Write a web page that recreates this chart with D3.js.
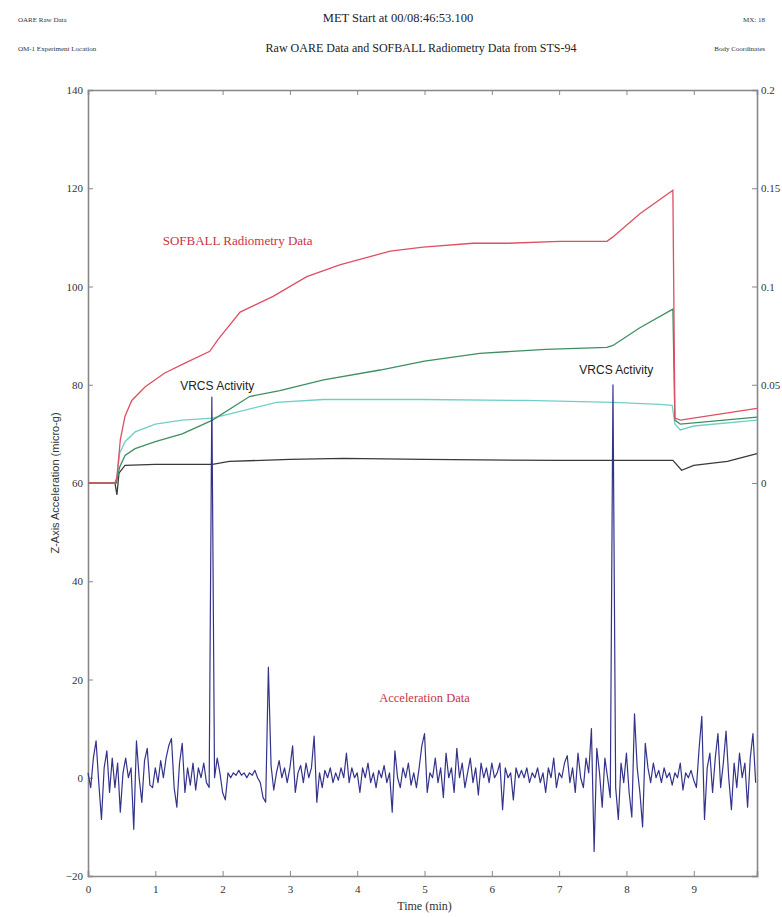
<!DOCTYPE html>
<html>
<head>
<meta charset="utf-8">
<script src="https://cdn.jsdelivr.net/npm/d3@7/dist/d3.min.js"></script>
<style>
  body { margin: 0; background: #fff; }
  .serif { font-family: "Liberation Serif", "DejaVu Serif", serif; }
  .sans { font-family: "Liberation Sans", Arial, sans-serif; }
  .axis path, .axis line { stroke: #888; }
  .axis text { font-family: "Liberation Serif", serif; font-size: 11px; fill: #333; }
</style>
</head>
<body>
<svg id="chart" width="782" height="917"></svg>
<script>
// x ticks (minutes) and y ticks
var timeTicks = [0, 1, 2, 3, 4, 5, 6, 7, 8, 9];
var accelTicks = [-20, 0, 20, 40, 60, 80, 100, 120, 140];
var radioTicks = [0, 0.05, 0.1, 0.15, 0.2];

// SOFBALL radiometry traces (right axis units), time in minutes
var redTime = [0, 0.40, 0.43, 0.48, 0.55, 0.65, 0.85, 1.14, 1.44, 1.81, 1.93, 2.26, 2.75, 3.25, 3.74, 4.49, 4.98, 5.72, 6.23, 7.01, 7.71, 7.79, 8.20, 8.69, 8.72, 8.80, 9.94];
var redVal  = [0, 0, 0.003, 0.022, 0.034, 0.042, 0.049, 0.056, 0.061, 0.067, 0.073, 0.087, 0.095, 0.105, 0.111, 0.118, 0.120, 0.122, 0.122, 0.123, 0.123, 0.125, 0.137, 0.149, 0.033, 0.032, 0.038];

var greenTime = [0, 0.42, 0.47, 0.55, 0.7, 1.0, 1.4, 1.85, 2.4, 2.85, 3.5, 4.34, 5.0, 5.82, 6.8, 7.71, 7.8, 8.2, 8.69, 8.72, 8.8, 9.94];
var greenVal  = [0, 0, 0.008, 0.014, 0.0175, 0.021, 0.025, 0.032, 0.044, 0.047, 0.0525, 0.0575, 0.062, 0.066, 0.068, 0.069, 0.070, 0.079, 0.0885, 0.032, 0.030, 0.0335];

var cyanTime = [0, 0.42, 0.47, 0.55, 0.7, 1.0, 1.4, 1.85, 2.2, 2.8, 3.5, 5.0, 6.5, 7.8, 8.5, 8.68, 8.72, 8.8, 9.0, 9.94];
var cyanVal  = [0, 0, 0.015, 0.021, 0.026, 0.030, 0.032, 0.033, 0.036, 0.041, 0.0425, 0.0425, 0.042, 0.041, 0.040, 0.0395, 0.030, 0.027, 0.029, 0.032];

var blackTime = [0, 0.40, 0.43, 0.46, 0.55, 1.0, 1.85, 2.1, 3.0, 3.8, 5.0, 7.0, 8.69, 8.82, 9.0, 9.5, 9.94];
var blackVal  = [0, 0, -0.006, 0.005, 0.009, 0.0095, 0.0095, 0.011, 0.012, 0.0125, 0.012, 0.0115, 0.0115, 0.0065, 0.009, 0.011, 0.015];

// OARE z-axis acceleration (micro-g), sampled every 0.04 min from t=0
var accelStart = 0, accelStep = 0.04;
var accelVal = [
  1, -2, 4, 7.5, -1, -8.5, 2, 5.5, -3, 4,
  -2, 3, -7, 1, 4, 0, 2, -10.5, 7.5, 0,
  -5, 3.5, 6, -1.5, -2, 2, -1, 3.5, 0, 4,
  6.5, 8, -2, -6, 3, 7, -3, 2, -1.5, 3,
  -2.5, 2, 0, 3, -1, -2, 77.5, 0, 4, 1,
  -3, -4.5, 1, 0, 1, 0.5, 1.5, 0.5, 1, 0,
  1, 0.5, 1.5, 0, -1, -4, -5, 22.5, 2.5, -2.5,
  1, 3.5, 0, 2, -1, 2, 6.5, -3, 1, 2.5,
  -1, 3, 0, 2, 8.5, -5, 1, -2, 1.5, 0,
  2, -1, 1, -0.5, 2, 0, 5, -1, 2, 0,
  1, -3, 2, 0, 3, -1, 1, -2, 1.5, 0,
  2.5, -1, 1, -7, 5.5, 0, -2, 2, 0, 3,
  -1.5, 1, -2, 2, 6.5, 9, -3, 1, 0, 4,
  -1, 2, -4, 5, 0, 2, -3, 6, 0, 3,
  -2, 1, 4, -1, 2, -3.5, 3, 0, 2, -1,
  3, 0, 1, 3, -6.5, 2, 0, 1, -4.5, 2,
  0, 1.5, 0, 2, -1, 1, 0, 2, -1, 1,
  -3, 2, 0, 4, -2, 1, 0, 3, 4.5, -1,
  2, -3, 5, 0, -2, 4, 1, 10, -15, 6,
  1, -6, 4, 0, -4, 80, -2, -8.5, 3, -1,
  5, -3, -8, 13, 2, -3, -10, 7, 2, -1,
  3, 0, 1.5, -1, 2, 0, 1, -1.5, 1, 0,
  3, -2.5, 1, 0, 1.5, -0.5, -2, 6, 12.5, -8.5,
  2, 5, -3, 4, 9, -2, 3, 9.5, 0, -6.5,
  3, -2, 5, 0, 3, -6, 4, 9, -1
];

var svg = d3.select("#chart");
var margin = {top: 90, left: 88, right: 25, bottom: 41};
var width = 782 - margin.left - margin.right;
var height = 917 - margin.top - margin.bottom;

var x = d3.scaleLinear().domain([0, 9.94]).range([0, width]);
var y = d3.scaleLinear().domain([-20, 140]).range([height, 0]);
var yR = d3.scaleLinear().domain([-0.2, 0.2]).range([height, 0]);

// header texts
svg.append("text").attr("class", "serif").attr("x", 398).attr("y", 22)
    .attr("text-anchor", "middle").attr("font-size", 12.5).attr("fill", "#222")
    .text("MET Start at 00/08:46:53.100");
svg.append("text").attr("class", "serif").attr("x", 421).attr("y", 52)
    .attr("text-anchor", "middle").attr("font-size", 12).attr("fill", "#222")
    .text("Raw OARE Data and SOFBALL Radiometry Data from STS-94");
svg.append("text").attr("class", "serif").attr("x", 18).attr("y", 22)
    .attr("font-size", 7).attr("fill", "#333").text("OARE Raw Data");
svg.append("text").attr("class", "serif").attr("x", 18).attr("y", 51)
    .attr("font-size", 7).attr("fill", "#333").text("OM-1 Experiment Location");
svg.append("text").attr("class", "serif").attr("x", 765).attr("y", 22)
    .attr("text-anchor", "end").attr("font-size", 7).attr("fill", "#333").text("MX: 18");
svg.append("text").attr("class", "serif").attr("x", 765).attr("y", 51)
    .attr("text-anchor", "end").attr("font-size", 7).attr("fill", "#333").text("Body Coordinates");

var g = svg.append("g")
    .attr("transform", "translate(" + margin.left + "," + margin.top + ")");

// axes with inward ticks
g.append("g").attr("class", "axis")
    .call(d3.axisLeft(y).tickValues(accelTicks).tickSize(-5).tickPadding(5));
g.append("g").attr("class", "axis")
    .attr("transform", "translate(" + width + ",0)")
    .call(d3.axisRight(yR).tickValues(radioTicks).tickSize(-5).tickPadding(4)
        .tickFormat(function(d) { return d === 0 ? "0" : String(d); }));
g.append("g").attr("class", "axis")
    .attr("transform", "translate(0," + height + ")")
    .call(d3.axisBottom(x).tickValues(timeTicks).tickSize(-5).tickPadding(9));
g.append("g").attr("class", "axis")
    .call(d3.axisTop(x).tickValues(timeTicks).tickSize(-5).tickFormat(""));

g.selectAll(".axis path").attr("stroke-width", 1.6);

// radiometry lines
var radioLine = d3.line()
    .x(function(d) { return x(d[0]); })
    .y(function(d) { return yR(d[1]); });

function pairs(ts, vs) { return ts.map(function(t, i) { return [t, vs[i]]; }); }

var radio = [
  {t: blackTime, v: blackVal, color: "#3a3a3a"},
  {t: cyanTime, v: cyanVal, color: "#6fcfc8"},
  {t: greenTime, v: greenVal, color: "#3d8f62"},
  {t: redTime, v: redVal, color: "#de4f63"}
];
radio.forEach(function(s) {
  g.append("path")
      .datum(pairs(s.t, s.v))
      .attr("fill", "none")
      .attr("stroke", s.color)
      .attr("stroke-width", 1.3)
      .attr("d", radioLine);
});

// acceleration trace
var accelLine = d3.line()
    .x(function(d, i) { return x(accelStart + i * accelStep); })
    .y(function(d) { return y(d); });

g.append("path")
    .datum(accelVal)
    .attr("fill", "none")
    .attr("stroke", "#34338c")
    .attr("stroke-width", 1.2)
    .attr("stroke-linejoin", "round")
    .attr("d", accelLine);

// annotations
g.append("text").attr("class", "serif")
    .attr("x", x(1.11)).attr("y", y(108.4))
    .attr("font-size", 13).attr("fill", "#cc3344")
    .text("SOFBALL Radiometry Data");
g.append("text").attr("class", "serif")
    .attr("x", x(5)).attr("y", y(15.5)).attr("text-anchor", "middle")
    .attr("font-size", 12.5).attr("fill", "#cc3344")
    .text("Acceleration Data");
g.append("text").attr("class", "sans")
    .attr("x", x(1.92)).attr("y", y(78.9)).attr("text-anchor", "middle")
    .attr("font-size", 12).attr("fill", "#222")
    .text("VRCS Activity");
g.append("text").attr("class", "sans")
    .attr("x", x(7.85)).attr("y", y(82.2)).attr("text-anchor", "middle")
    .attr("font-size", 12).attr("fill", "#222")
    .text("VRCS Activity");

// axis titles
svg.append("text").attr("class", "sans")
    .attr("transform", "translate(59," + (margin.top + height / 2) + ") rotate(-90)")
    .attr("text-anchor", "middle").attr("font-size", 11).attr("fill", "#333")
    .text("Z-Axis Acceleration (micro-g)");
svg.append("text").attr("class", "serif")
    .attr("x", margin.left + x(5)).attr("y", 910)
    .attr("text-anchor", "middle").attr("font-size", 12).attr("fill", "#333")
    .text("Time (min)");
</script>
</body>
</html>
